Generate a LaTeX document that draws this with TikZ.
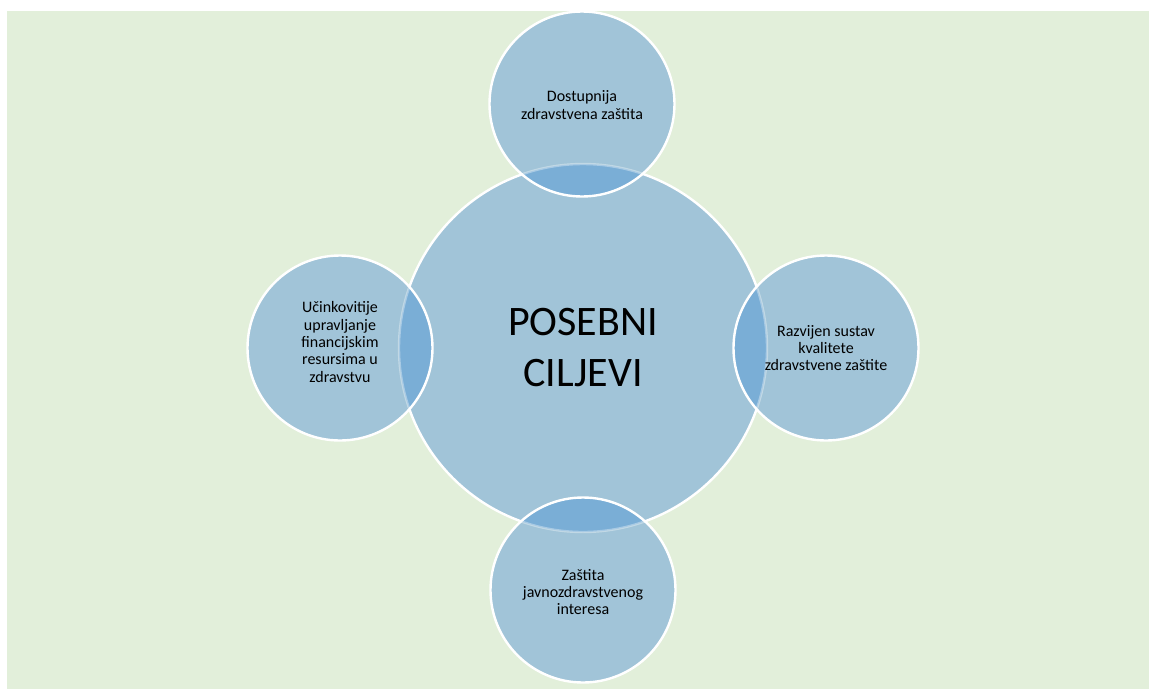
\documentclass[tikz,border=0pt]{standalone}
\usepackage{fontspec}
\setmainfont{Carlito}
\definecolor{bgc}{HTML}{E2EFDA}
\definecolor{circc}{HTML}{A1C4D8}
\definecolor{lensc}{HTML}{7AAED6}
\begin{document}
\begin{tikzpicture}[x=1pt,y=-1pt,
  bigcirc/.style={circle, fill=circc, draw=white, line width=2.4pt, minimum size=368pt, inner sep=0pt,
    align=center, font=\fontsize{42}{51}\selectfont},
  smallcirc/.style={circle, fill=circc, minimum size=185pt, inner sep=0pt},
  smalltext/.style={align=center, inner sep=0pt, font=\fontsize{16}{17.4}\selectfont},
  rim/.style={draw=white, line width=2.4pt},
  faint/.style={draw=white, draw opacity=0.35, line width=2.4pt}]
\useasboundingbox (0,0) rectangle (1149,689);
\fill[bgc] (7,11) rectangle (1149,689);
\node[bigcirc] (c) at (583,348) {POSEBNI\\CILJEVI};
\node[smallcirc] (t) at (582,104) {};
\node[smallcirc] (l) at (340,348) {};
\node[smallcirc] (r) at (826,348) {};
\node[smallcirc] (b) at (583,590) {};
\foreach \n in {t,l,r,b}{
  \begin{scope}
    \clip (c.center) circle (184);
    \fill[lensc] (\n.center) circle (92.5);
  \end{scope}
  \begin{scope}
    \clip (\n.center) circle (92.5);
    \path[faint] (c.center) circle (184);
  \end{scope}
  \path[rim] (\n.center) circle (92.5);
}
\node[smalltext] (tt) at ([yshift=-1pt]t.center) {Dostupnija\\zdravstvena zaštita};
\node[smalltext] (lt) at ([yshift=6pt]l.center) {Učinkovitije\\upravljanje\\financijskim\\resursima u\\zdravstvu};
\node[smalltext] (rt) at (r.center) {Razvijen sustav\\kvalitete\\zdravstvene zaštite};
\node[smalltext] (bt) at ([yshift=-2pt]b.center) {Zaštita\\javnozdravstvenog\\interesa};
\end{tikzpicture}
\end{document}
